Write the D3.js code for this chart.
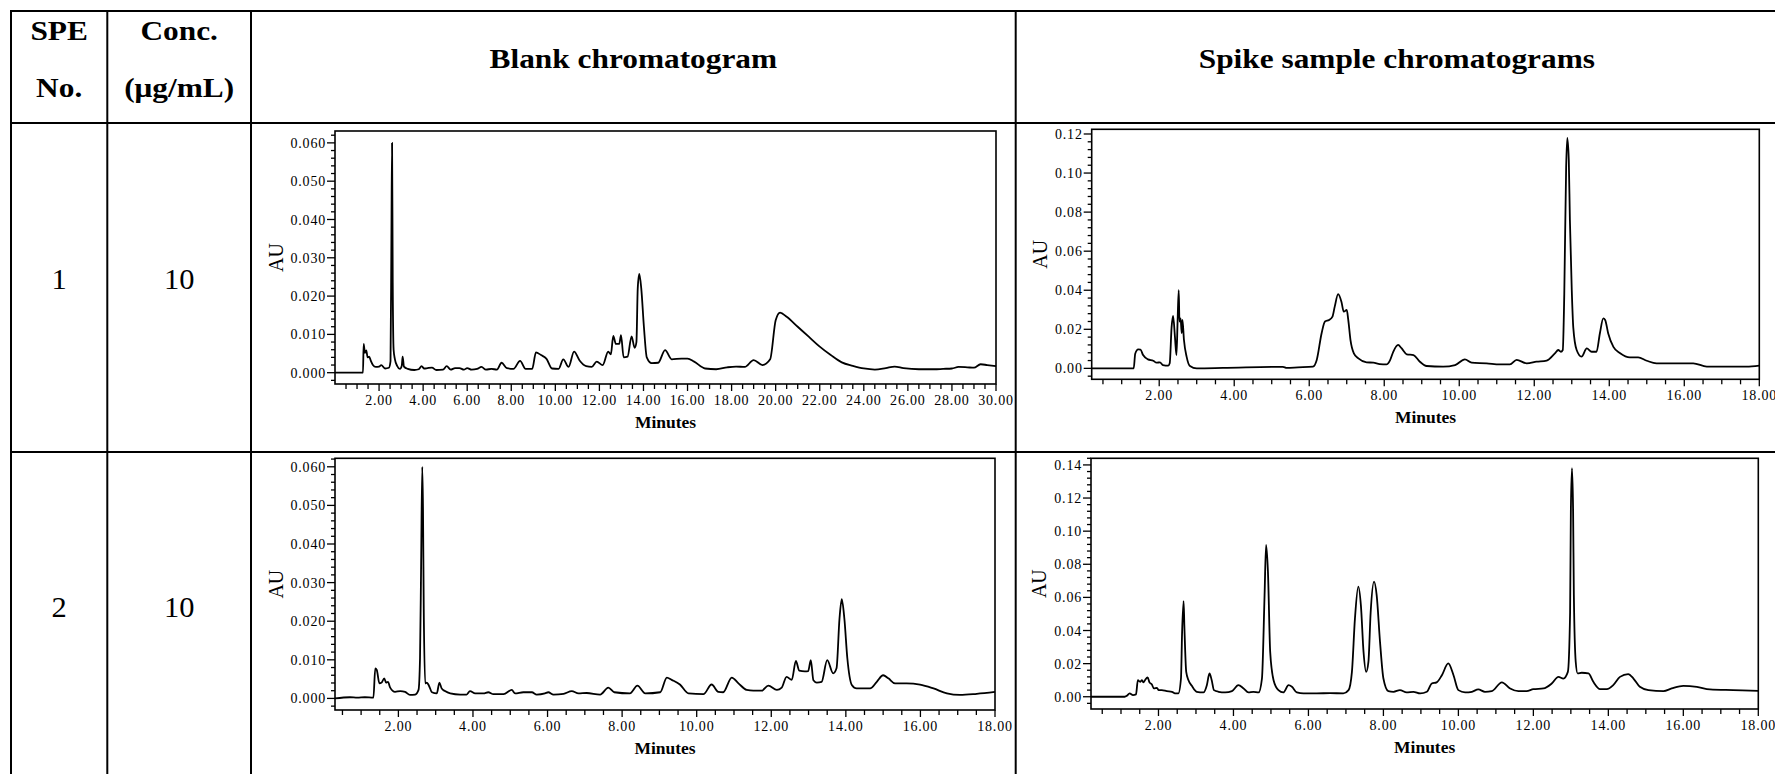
<!DOCTYPE html>
<html><head><meta charset="utf-8">
<script src="https://cdn.jsdelivr.net/npm/d3@7"></script>
<style>
body{margin:0;background:#fff}
svg{display:block}
text{font-family:"Liberation Serif","Times New Roman",serif;fill:#000}
</style>
</head><body>
<svg id="c" width="1775" height="774"></svg>
<script>
// ---------- table text ----------
const headerCols = ["SPE|No.", "Conc.|(μg/mL)", "Blank chromatogram", "Spike sample chromatograms"];
const speNo = ["1", "2"];
const concValues = ["10", "10"];
const xTickFormat = ".2f";
const axisXTitle = "Minutes";
const axisYTitle = "AU";

// ---------- chromatogram traces [minutes, AU] ----------
const blank1 = [[0.0,0.0],[0.5,0.0],[1.0,0.0],[1.27,0.0],[1.30,0.0075],[1.36,0.0052],[1.42,0.0058],[1.48,0.004],[1.55,0.0042],[1.62,0.0032],[1.72,0.002],[1.85,0.0015],[2.0,0.0016],[2.1,0.002],[2.27,0.0011],[2.45,0.0013],[2.52,0.003],[2.56,0.035],[2.59,0.060],[2.62,0.0235],[2.66,0.006],[2.72,0.0035],[2.82,0.0018],[2.95,0.001],[3.03,0.0018],[3.07,0.0042],[3.13,0.0016],[3.3,0.001],[3.6,0.0007],[3.8,0.0009],[3.93,0.0017],[4.05,0.0011],[4.2,0.0012],[4.4,0.0013],[4.6,0.0007],[4.9,0.0008],[5.07,0.0017],[5.25,0.0008],[5.45,0.0012],[5.65,0.0012],[5.85,0.0008],[6.0,0.0012],[6.2,0.0008],[6.45,0.0010],[6.65,0.0015],[6.85,0.0008],[7.1,0.0010],[7.35,0.0008],[7.56,0.0026],[7.8,0.0012],[8.1,0.0010],[8.40,0.0031],[8.65,0.0010],[8.95,0.0010],[9.12,0.0053],[9.35,0.0046],[9.6,0.0036],[9.85,0.0011],[10.15,0.0010],[10.36,0.0035],[10.6,0.0015],[10.85,0.0055],[11.1,0.0032],[11.4,0.0017],[11.65,0.0015],[11.88,0.0029],[12.15,0.0020],[12.4,0.0055],[12.52,0.0048],[12.63,0.0096],[12.75,0.0075],[12.9,0.0075],[12.98,0.0098],[13.1,0.0040],[13.28,0.0042],[13.46,0.0095],[13.6,0.0065],[13.68,0.008],[13.74,0.022],[13.81,0.0258],[13.9,0.022],[14.02,0.012],[14.15,0.004],[14.37,0.0025],[14.67,0.0026],[14.98,0.0059],[15.28,0.0035],[15.73,0.0037],[16.0,0.0037],[16.3,0.0029],[16.8,0.0011],[17.3,0.0009],[17.8,0.0014],[18.2,0.0016],[18.6,0.0015],[19.0,0.0033],[19.4,0.002],[19.75,0.0035],[20.0,0.0137],[20.2,0.0157],[20.5,0.0146],[21.0,0.012],[21.5,0.0094],[22.0,0.0068],[22.5,0.0046],[23.0,0.0027],[23.5,0.0018],[24.0,0.0011],[24.5,0.0008],[25.0,0.0012],[25.4,0.0016],[25.8,0.0012],[26.5,0.0009],[27.2,0.0009],[27.6,0.0010],[28.0,0.0011],[28.3,0.0015],[28.7,0.0014],[29.0,0.0013],[29.3,0.0022],[29.6,0.002],[30.0,0.0017]];

const spike1 = [[0.2,0],[1.0,0],[1.32,0],[1.36,0.0075],[1.44,0.0097],[1.5,0.0096],[1.57,0.0068],[1.7,0.0046],[1.84,0.0039],[1.93,0.0029],[2.02,0.0031],[2.1,0.0017],[2.24,0.0014],[2.28,0.0026],[2.33,0.021],[2.37,0.0268],[2.42,0.016],[2.46,0.0068],[2.49,0.024],[2.52,0.040],[2.54,0.024],[2.57,0.0256],[2.6,0.018],[2.62,0.0248],[2.66,0.0145],[2.73,0.006],[2.82,0.0012],[3.0,0.0],[3.7,0.0002],[5.3,0.0008],[5.4,0.0002],[5.7,0.0005],[6.1,0.0009],[6.2,0.0043],[6.33,0.018],[6.42,0.024],[6.53,0.0248],[6.62,0.0265],[6.68,0.0316],[6.77,0.038],[6.86,0.034],[6.92,0.029],[7.0,0.0299],[7.04,0.025],[7.1,0.0145],[7.19,0.0077],[7.31,0.0051],[7.53,0.0031],[7.71,0.0029],[7.88,0.0022],[8.06,0.002],[8.15,0.004],[8.24,0.0085],[8.37,0.012],[8.46,0.0103],[8.6,0.0072],[8.78,0.0068],[8.95,0.0034],[9.13,0.0012],[9.57,0.0009],[9.89,0.0017],[10.15,0.0046],[10.33,0.0029],[10.73,0.0026],[11.08,0.0020],[11.35,0.002],[11.53,0.0043],[11.8,0.0026],[12.06,0.0034],[12.33,0.004],[12.55,0.0077],[12.64,0.0094],[12.71,0.0085],[12.76,0.0094],[12.8,0.038],[12.85,0.103],[12.88,0.118],[12.92,0.107],[12.95,0.076],[13.0,0.040],[13.04,0.021],[13.13,0.0094],[13.26,0.006],[13.4,0.0102],[13.53,0.0085],[13.66,0.0085],[13.75,0.018],[13.84,0.0256],[13.89,0.0248],[13.97,0.018],[14.11,0.011],[14.29,0.0077],[14.55,0.0056],[14.77,0.0056],[15.0,0.0039],[15.26,0.0026],[15.53,0.0026],[16.24,0.0026],[16.6,0.0009],[17.66,0.0009],[18.0,0.0014]];

const blank2 = [[0.3,0],[0.7,0.0003],[0.9,0.0002],[1.1,0.0003],[1.33,0.0002],[1.38,0.0078],[1.42,0.0074],[1.49,0.0039],[1.55,0.0041],[1.62,0.0052],[1.67,0.0041],[1.72,0.0043],[1.78,0.0028],[1.91,0.0017],[2.05,0.0019],[2.18,0.0017],[2.31,0.0009],[2.45,0.0010],[2.54,0.0022],[2.58,0.0104],[2.61,0.035],[2.64,0.060],[2.66,0.049],[2.68,0.0233],[2.72,0.0039],[2.76,0.0041],[2.81,0.0035],[2.9,0.0016],[3.03,0.0013],[3.1,0.0041],[3.16,0.0026],[3.25,0.0019],[3.39,0.0013],[3.66,0.001],[3.83,0.001],[3.92,0.0019],[4.06,0.0013],[4.28,0.0013],[4.41,0.0016],[4.55,0.0011],[4.82,0.0011],[5.04,0.0022],[5.13,0.0013],[5.35,0.0016],[5.58,0.0016],[5.71,0.001],[5.93,0.0013],[6.02,0.0016],[6.16,0.001],[6.43,0.0012],[6.65,0.0019],[6.83,0.0013],[7.05,0.0014],[7.41,0.001],[7.63,0.0028],[7.79,0.0016],[8.21,0.0013],[8.41,0.0033],[8.62,0.0013],[9.02,0.0016],[9.2,0.0054],[9.33,0.0048],[9.55,0.0036],[9.78,0.0013],[10.18,0.0011],[10.4,0.0036],[10.58,0.0017],[10.71,0.0016],[10.94,0.0054],[11.12,0.0039],[11.34,0.0022],[11.52,0.002],[11.74,0.002],[11.92,0.0033],[12.15,0.0022],[12.28,0.0028],[12.41,0.0056],[12.55,0.0048],[12.66,0.0097],[12.75,0.0072],[12.9,0.007],[12.99,0.0071],[13.06,0.0099],[13.13,0.0047],[13.22,0.0041],[13.35,0.0043],[13.5,0.0099],[13.66,0.0065],[13.75,0.0078],[13.83,0.0207],[13.89,0.0257],[13.96,0.0207],[14.04,0.0104],[14.16,0.0035],[14.29,0.0026],[14.65,0.0026],[14.83,0.0043],[15.0,0.006],[15.14,0.0052],[15.32,0.0039],[15.63,0.0039],[15.99,0.0036],[16.35,0.0026],[16.71,0.0013],[17.06,0.0009],[17.51,0.0012],[18.0,0.0017]];

const spike2 = [[0.2,0],[1.1,0],[1.16,0.0006],[1.23,0.002],[1.32,0.001],[1.4,0.0014],[1.45,0.01],[1.51,0.009],[1.56,0.01],[1.6,0.0087],[1.64,0.01],[1.71,0.0117],[1.76,0.0087],[1.82,0.0075],[1.88,0.005],[1.96,0.0054],[2.0,0.004],[2.09,0.004],[2.22,0.0034],[2.36,0.003],[2.44,0.002],[2.53,0.002],[2.6,0.011],[2.63,0.039],[2.67,0.0578],[2.69,0.043],[2.74,0.015],[2.8,0.01],[2.89,0.0066],[3.02,0.003],[3.2,0.0026],[3.29,0.007],[3.36,0.0141],[3.42,0.01],[3.48,0.004],[3.6,0.003],[3.78,0.0026],[3.96,0.0034],[4.13,0.007],[4.27,0.005],[4.4,0.0026],[4.53,0.003],[4.67,0.0026],[4.76,0.011],[4.83,0.0614],[4.87,0.0917],[4.92,0.0755],[4.98,0.027],[5.07,0.01],[5.2,0.004],[5.33,0.0026],[5.47,0.007],[5.56,0.006],[5.69,0.0026],[5.87,0.002],[6.22,0.002],[6.58,0.0022],[6.93,0.002],[7.07,0.004],[7.16,0.015],[7.24,0.047],[7.33,0.0665],[7.4,0.055],[7.47,0.027],[7.54,0.015],[7.6,0.021],[7.66,0.051],[7.75,0.0695],[7.82,0.0614],[7.91,0.033],[8.0,0.011],[8.13,0.0034],[8.27,0.003],[8.44,0.004],[8.62,0.0026],[8.8,0.003],[8.98,0.002],[9.16,0.003],[9.29,0.008],[9.42,0.0087],[9.56,0.013],[9.73,0.0201],[9.87,0.013],[10.0,0.004],[10.18,0.0026],[10.36,0.003],[10.53,0.0044],[10.71,0.003],[10.89,0.0034],[11.16,0.0087],[11.38,0.005],[11.6,0.0034],[11.82,0.0034],[12.0,0.0046],[12.27,0.005],[12.49,0.008],[12.67,0.012],[12.8,0.011],[12.92,0.015],[12.98,0.051],[13.0,0.112],[13.03,0.138],[13.06,0.112],[13.08,0.0614],[13.13,0.021],[13.18,0.0141],[13.29,0.0145],[13.47,0.0141],[13.6,0.009],[13.78,0.0046],[13.96,0.0046],[14.13,0.007],[14.31,0.012],[14.53,0.0137],[14.67,0.011],[14.84,0.006],[15.07,0.004],[15.47,0.0034],[15.69,0.005],[16.0,0.0066],[16.36,0.006],[16.71,0.0044],[17.33,0.004],[18.0,0.0036]];

// axis ranges per chromatogram
const blank1Range = {x:[0,30], y:[-0.00295,0.0631], yMajor:0.01, yMinor:0.002, fmt:".3f"};
const spike1Range = {x:[0.2,18], y:[-0.0056,0.1224], yMajor:0.02, yMinor:0.004, fmt:".2f"};
const blank2Range = {x:[0.3,18], y:[-0.0030,0.0622], yMajor:0.01, yMinor:0.002, fmt:".3f"};
const spike2Range = {x:[0.2,18], y:[-0.0074,0.144], yMajor:0.02, yMinor:0.004, fmt:".2f"};

// ---------- drawing ----------
const svg = d3.select("#c");
svg.append("rect").attr("width",1775).attr("height",774).attr("fill","#fff");

const colX = [11, 107.3, 251, 1015.7, 1778];
const rowY = [11, 123, 452, 790];

// table grid
const grid = svg.append("g").attr("stroke","#000").attr("stroke-width",2);
rowY.forEach(y => grid.append("line").attr("x1",colX[0]-1).attr("x2",1780).attr("y1",y).attr("y2",y));
colX.forEach(x => grid.append("line").attr("x1",x).attr("x2",x).attr("y1",rowY[0]-1).attr("y2",800));

function stext(g, x, y, str, size, weight, sx){
  return g.append("text")
    .attr("transform",`translate(${x},${y}) scale(${sx},1)`)
    .attr("text-anchor","middle")
    .attr("font-size",size).attr("font-weight",weight).text(str);
}

// header
const hdr = svg.append("g");
[0,1].forEach(i=>{
  const [a,b] = headerCols[i].split("|");
  const cx = (colX[i]+colX[i+1])/2;
  stext(hdr, cx, 40, a, 27.5, "bold", 1.14);
  stext(hdr, cx, 97, b, 27.5, "bold", 1.14);
});
stext(hdr, (colX[2]+colX[3])/2, 68, headerCols[2], 27.5, "bold", 1.14);
stext(hdr, (colX[3]+colX[4])/2, 68, headerCols[3], 27.5, "bold", 1.14);

// row labels
const rowCenters = [278.5, 607];
rowCenters.forEach((cy,r)=>{
  stext(svg, (colX[0]+colX[1])/2, cy+10, speNo[r], 29, "normal", 1.05);
  stext(svg, (colX[1]+colX[2])/2, cy+10, concValues[r], 29, "normal", 1.05);
});

// chromatogram panels
const panels = [
  {data:blank1, r:blank1Range, f:{x0:335, x1:996, y0:131, y1:384}},
  {data:spike1, r:spike1Range, f:{x0:1091.7, x1:1759.3, y0:129.3, y1:379.3}},
  {data:blank2, r:blank2Range, f:{x0:335, x1:995, y0:458.3, y1:710}},
  {data:spike2, r:spike2Range, f:{x0:1091, x1:1758.3, y0:458.3, y1:709}}
];

panels.forEach(p=>{
  const {f, r} = p;
  const g = svg.append("g");
  const x = d3.scaleLinear().domain(r.x).range([f.x0, f.x1]);
  const y = d3.scaleLinear().domain(r.y).range([f.y1, f.y0]);

  // y ticks
  const ratio = Math.round(r.yMajor/r.yMinor);
  const kMin = Math.ceil(r.y[0]/r.yMinor - 1e-9), kMax = Math.floor(r.y[1]/r.yMinor + 1e-9);
  const yt = g.append("g");
  for(let k=kMin;k<=kMax;k++){
    const v = k*r.yMinor, major = (k % ratio === 0);
    const yy = y(v);
    yt.append("line").attr("x1",f.x0-(major?8:4)).attr("x2",f.x0).attr("y1",yy).attr("y2",yy)
      .attr("stroke","#000").attr("stroke-width",1.3);
    if(major && v >= -1e-9){
      yt.append("text").attr("x",f.x0-9).attr("y",yy).attr("dy","0.36em")
        .attr("text-anchor","end").attr("font-size",14).attr("letter-spacing",0.8)
        .text(d3.format(r.fmt)(Math.abs(v)<1e-9?0:v));
    }
  }
  const yb = yt.node().getBBox();
  g.append("text").attr("transform",`translate(${yb.x-8},${(f.y0+f.y1)/2}) rotate(-90)`)
    .attr("text-anchor","middle").attr("font-size",20).text(axisYTitle);

  // x ticks
  const xt = g.append("g");
  const jMin = Math.ceil(r.x[0]*2 - 1e-9), jMax = Math.floor(r.x[1]*2 + 1e-9);
  for(let j=jMin;j<=jMax;j++){
    const v = j/2, major = (j % 4 === 0);
    const xx = x(v);
    if(v > r.x[0] + 1e-9)
      xt.append("line").attr("x1",xx).attr("x2",xx).attr("y1",f.y1).attr("y2",f.y1+(major?7:5))
        .attr("stroke","#000").attr("stroke-width",1.3);
    if(major && v >= 1){
      xt.append("text").attr("x",xx).attr("y",f.y1+21).attr("text-anchor","middle")
        .attr("font-size",14).attr("letter-spacing",0.8).text(d3.format(xTickFormat)(v));
    }
  }
  g.append("text").attr("x",(f.x0+f.x1)/2).attr("y",f.y1+44).attr("text-anchor","middle")
    .attr("font-size",17.5).attr("font-weight","bold").text(axisXTitle);

  // trace
  const line = d3.line().curve(d3.curveMonotoneX).x(d=>x(d[0])).y(d=>y(d[1]));
  g.append("path").datum(p.data).attr("d",line).attr("fill","none")
    .attr("stroke","#000").attr("stroke-width",1.8).attr("stroke-linejoin","round");

  // frame
  g.append("rect").attr("x",f.x0).attr("y",f.y0).attr("width",f.x1-f.x0).attr("height",f.y1-f.y0)
    .attr("fill","none").attr("stroke","#000").attr("stroke-width",1.6);
});
</script>
</body></html>
